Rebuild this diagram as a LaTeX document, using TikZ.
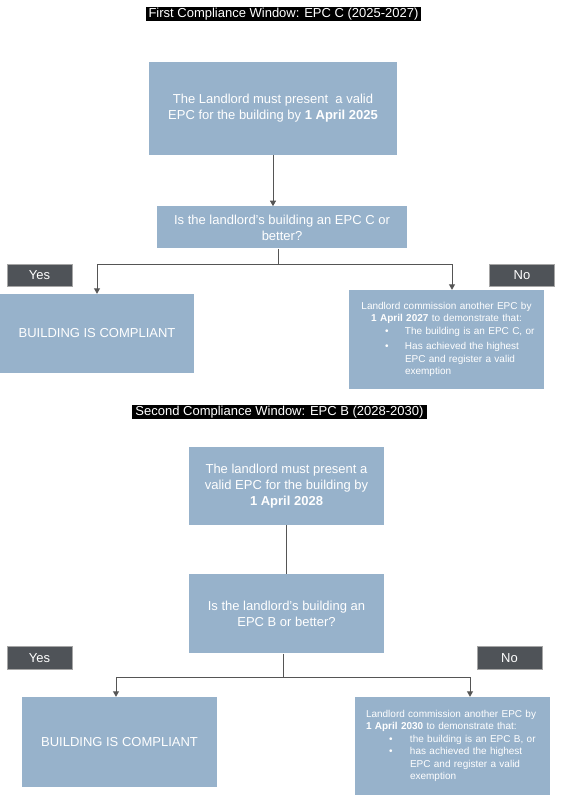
\documentclass[tikz,border=0pt]{standalone}
\usepackage{fontspec}
\setmainfont{Liberation Sans}
\usetikzlibrary{positioning,arrows.meta}

\definecolor{boxblue}{HTML}{97B2CB}
\definecolor{tagdark}{HTML}{4F5358}
\definecolor{linegray}{HTML}{555555}

% bullet line: indent, bullet width, text
\newcommand{\bulline}[3]{\par\noindent\hspace*{#1}\makebox[#2][l]{\textbullet}\parbox[t]{130pt}{\raggedright #3}}

\begin{document}
\begin{tikzpicture}[x=1pt, y=-1pt,
    box/.style={fill=boxblue, text=white, align=center, inner sep=0pt,
        font=\fontsize{13}{16}\selectfont},
    smallbox/.style={fill=boxblue, text=white, inner sep=0pt,
        font=\fontsize{10}{12.4}\selectfont},
    heading/.style={fill=black, text=white, inner xsep=3pt, inner ysep=0pt,
        minimum height=14pt, text height=9.5pt, text depth=2.8pt,
        font=\fontsize{13}{15}\selectfont},
    tag/.style={fill=tagdark, draw=black!35, line width=0.6pt, text=white,
        minimum width=65pt, minimum height=22.5pt, inner sep=0pt,
        font=\fontsize{13}{15}\selectfont},
    link/.style={draw=linegray, line width=0.9pt},
    arrow/.style={link, -{Triangle[width=6pt,length=5.5pt]}}]

\useasboundingbox (0,0) rectangle (579,799);

% First window
\node[heading] (title1) at (283.5,14) {First Compliance Window: EPC C (2025-2027)};
\node[box, minimum width=248pt, minimum height=93pt] (epc1) at (273,108.5)
    {The Landlord must present \ a valid\\EPC for the building by \textbf{1 April 2025}};
\node[box, below=51pt of epc1, xshift=9pt, minimum width=250pt, minimum height=42pt] (check1)
    {Is the landlord's building an EPC C or\\better?};
\node[box, minimum width=194pt, minimum height=79pt] (comply1) at (97,333.5) {BUILDING IS COMPLIANT};
\node[smallbox, text width=195pt, minimum height=99pt] (commission1) at (446.5,339.5)
    {{\centering Landlord commission another EPC by\\\textbf{1 April 2027} to demonstrate that:\par}
     \bulline{36pt}{20pt}{The building is an EPC C, or}\par\vspace{3pt}
     \bulline{36pt}{20pt}{Has achieved the highest\\EPC and register a valid\\exemption}};
\node[tag] (yes1) at (39.5,275.5) {Yes};
\node[tag] (no1) at (522,275.5) {No};

% Connect the nodes
\draw[arrow] (epc1.south) -- (epc1.south |- check1.north);
\draw[link] ([xshift=-4pt]check1.south) -- ++(0,16) coordinate (fork1);
\draw[arrow] (fork1) -| (comply1.north);
\draw[arrow] (fork1) -| ([xshift=5.5pt]commission1.north);

% Second window
\node[heading] (title2) at (279.5,412) {Second Compliance Window: EPC B (2028-2030)};
\node[box, minimum width=195pt, minimum height=78pt] (epc2) at (286.5,486)
    {The landlord must present a\\valid EPC for the building by\\\textbf{1 April 2028}};
\node[box, below=49pt of epc2, minimum width=195pt, minimum height=79pt] (check2)
    {Is the landlord's building an\\EPC B or better?};
\node[box, minimum width=195pt, minimum height=90pt] (comply2) at (119.5,742) {BUILDING IS COMPLIANT};
\node[smallbox, text width=173pt, inner xsep=11pt, minimum height=98pt] (commission2) at (452.5,746)
    {\raggedright Landlord commission another EPC by\\\textbf{1 April 2030} to demonstrate that:
     \bulline{23pt}{21pt}{the building is an EPC B, or}
     \bulline{23pt}{21pt}{has achieved the highest\\EPC and register a valid\\exemption}};
\node[tag] (yes2) at (39.5,658) {Yes};
\node[tag] (no2) at (509.5,658) {No};

% Connect the nodes
\draw[link] (epc2.south) -- (check2.north);
\draw[link] ([xshift=-3.5pt]check2.south) -- ++(0,24) coordinate (fork2);
\draw[arrow] (fork2) -| ([xshift=-3.5pt]comply2.north);
\draw[arrow] (fork2) -| ([xshift=17.5pt]commission2.north);

\end{tikzpicture}
\end{document}
